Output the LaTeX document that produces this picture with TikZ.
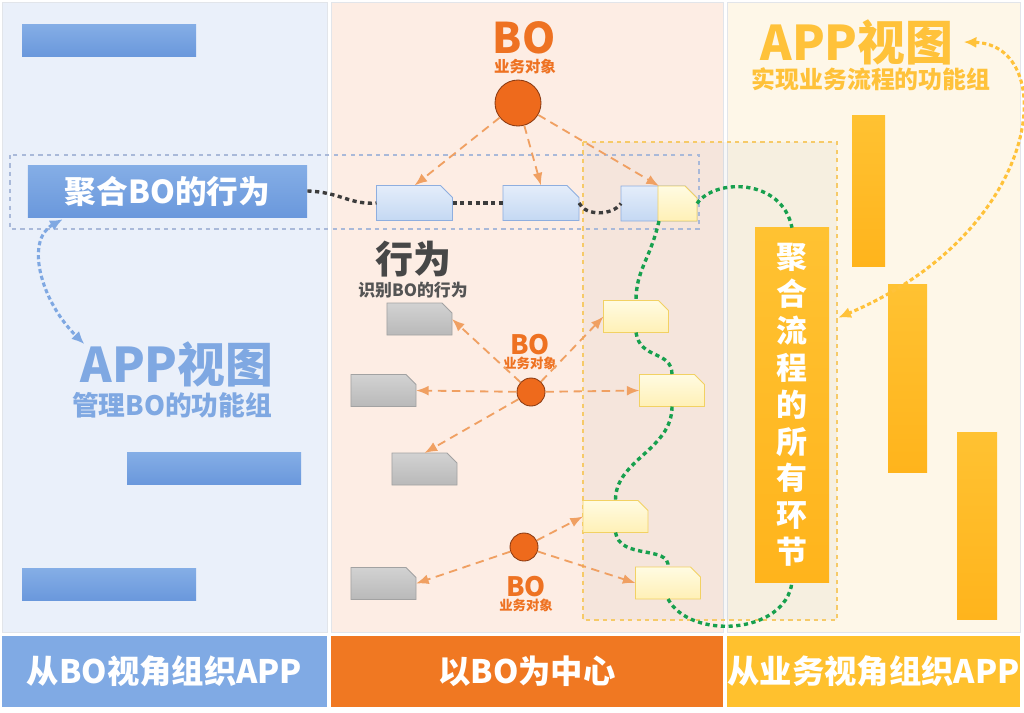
\documentclass[tikz,border=0pt]{standalone}
\usepackage{fontspec}
\setmainfont{Noto Sans CJK SC}
\usetikzlibrary{arrows.meta,positioning,calc}
\definecolor{bgblue}{HTML}{EAF0FA}
\definecolor{bgpeach}{HTML}{FDEDE4}
\definecolor{bgcream}{HTML}{FEF7E8}
\definecolor{banblue}{HTML}{80AAE4}
\definecolor{banorange}{HTML}{F07822}
\definecolor{banyellow}{HTML}{FFC12E}
\definecolor{barblueA}{HTML}{85AEE6}
\definecolor{barblueB}{HTML}{6A98DC}
\definecolor{baryellowA}{HTML}{FFC232}
\definecolor{baryellowB}{HTML}{FFB41C}
\definecolor{txtblue}{HTML}{7FA8E2}
\definecolor{txtyellow}{HTML}{FFC23A}
\definecolor{botext}{HTML}{EE7222}
\definecolor{bocircle}{HTML}{EE6A1C}
\definecolor{bostroke}{HTML}{8A3A12}
\definecolor{arrorange}{HTML}{F0A062}
\definecolor{dotgreen}{HTML}{17A04E}
\definecolor{dotblack}{HTML}{3C3C3C}
\definecolor{blueframe}{HTML}{A9B9D9}
\definecolor{yellowframe}{HTML}{F6CA68}
\definecolor{colline}{HTML}{E2E5EA}
\definecolor{tagblueA}{HTML}{E4EDFA}
\definecolor{tagblueB}{HTML}{C4D8F3}
\definecolor{tagblueD}{HTML}{8EAEDF}
\definecolor{tagyelA}{HTML}{FFFBE2}
\definecolor{tagyelB}{HTML}{FFF0B6}
\definecolor{tagyelD}{HTML}{F2D163}
\definecolor{taggrayA}{HTML}{D2D2D2}
\definecolor{taggrayB}{HTML}{B9B9B9}
\definecolor{taggrayD}{HTML}{A2A2A2}
\begin{document}
\begin{tikzpicture}[x=0.025cm,y=-0.025cm,font=\bfseries,
  banner/.style={minimum height=1.775cm,inner sep=0,text=white,font=\bfseries\fontsize{23}{26}\selectfont},
  tag/.style={inner sep=0,outer sep=0},
  bigtag/.style={tag,minimum width=1.9cm,minimum height=.875cm},
  smalltag/.style={tag,minimum width=1.625cm,minimum height=.8cm},
  bluefill/.style={draw=tagblueD,line width=.6pt,top color=tagblueA,bottom color=tagblueB},
  yelfill/.style={draw=tagyelD,line width=.6pt,top color=tagyelA,bottom color=tagyelB},
  grayfill/.style={draw=taggrayD,line width=.6pt,top color=taggrayA,bottom color=taggrayB},
  bonode/.style={circle,draw=bostroke,fill=bocircle,line width=.6pt,minimum size=#1,inner sep=0},
  botitle/.style={text=botext,inner sep=0,font=\bfseries\fontsize{#1}{#1}\selectfont},
  boarrow/.style={draw=arrorange,dash pattern=on 6pt off 4pt,line width=1.3pt,-{Latex[length=9pt,width=7pt]}},
  greendot/.style={draw=dotgreen,line width=2.4pt,dash pattern=on 3pt off 2.5pt},
  blackdot/.style={draw=dotblack,line width=2.4pt,dash pattern=on 3pt off 2.5pt},
  bluedot/.style={draw=txtblue,line width=2.2pt,dash pattern=on 3pt off 2pt,{Latex[length=9pt,width=8pt]}-{Latex[length=9pt,width=8pt]}},
  yeldot/.style={draw=txtyellow,line width=2.2pt,dash pattern=on 3pt off 2pt,{Latex[length=9pt,width=8pt]}-{Latex[length=9pt,width=8pt]}}]
\useasboundingbox (0,0) rectangle (1024,712);
\fill[white] (0,0) rectangle (1024,712);
% columns
\filldraw[bgblue,draw=colline] (2,2) rectangle (327,632);
\filldraw[bgpeach,draw=colline] (331,2) rectangle (723,632);
\filldraw[bgcream,draw=colline] (727,2) rectangle (1020,632);
\node[banner,fill=banblue,minimum width=8.125cm] (banL) at (164.5,671.5) {从BO视角组织APP};
\node[banner,fill=banorange,minimum width=9.8cm] (banM) at (527,671.5) {以BO为中心};
\node[banner,fill=banyellow,minimum width=7.325cm] (banR) at (873.5,671.5) {从业务视角组织APP};
% frames
\draw[yellowframe,fill=black,fill opacity=.03,dashed,line width=.8pt] (583,142) rectangle (837,620);
\draw[blueframe,dashed,line width=.8pt] (10,155) rectangle (699,229);
% bars
\shade[top color=barblueA,bottom color=barblueB] (22,24) rectangle (196,56);
\shade[top color=barblueA,bottom color=barblueB] (127,452) rectangle (301,484);
\shade[top color=barblueA,bottom color=barblueB] (22,568) rectangle (196,600);
\shade[top color=baryellowA,bottom color=baryellowB] (852,115) rectangle (885,266);
\shade[top color=baryellowA,bottom color=baryellowB] (888,284) rectangle (927,472);
\shade[top color=baryellowA,bottom color=baryellowB] (957,432) rectangle (997,619);
% left column
\node[top color=barblueA,bottom color=barblueB,minimum width=6.975cm,minimum height=1.3cm,inner sep=0,text=white,font=\bfseries\fontsize{22.5}{24}\selectfont] (aggBO) at (167.5,191) {聚合BO的行为};
\node[text=txtblue,inner sep=0,font=\bfseries\fontsize{34}{36}\selectfont] (appL) at (177,364) {APP视图};
\node[text=txtblue,inner sep=0,font=\bfseries\fontsize{19}{21}\selectfont] (appLsub) at (172,405) {管理BO的功能组};
\draw[bluedot] ($(aggBO.south west)+(35,2)$) .. controls (25,240) and (40,300) .. ($(appL.north west)+(4,3)$);
% middle column
\node[bonode=1.15cm] (bo1) at (518,103) {};
\node[botitle=30] (bo1t) at (524,38) {BO};
\node[botitle=11] (bo1s) at (525,67) {业务对象};
\node[bigtag] (tagA) at (414.5,203) {};
\node[bigtag] (tagB) at (541,203) {};
\node[bigtag] (tagC) at (659,203.5) {};
\node[tag,minimum width=.975cm,minimum height=.875cm] (tagCy) at (677.5,203.5) {};
\node[smalltag] (g1) at (419.5,319) {};
\node[smalltag] (g2) at (383.5,390.5) {};
\node[smalltag] (g3) at (424.5,469) {};
\node[smalltag] (g4) at (383.5,583.5) {};
\node[smalltag] (y1) at (636,316.5) {};
\node[smalltag] (y2) at (672,390.5) {};
\node[smalltag] (y3) at (615.5,516.5) {};
\node[smalltag] (y4) at (668,583) {};
% folded tags
\foreach \n/\s/\c in {tagA/bluefill/.3cm,tagB/bluefill/.3cm,tagC/bluefill/.3cm,tagCy/yelfill/.3cm,
  g1/grayfill/.25cm,g2/grayfill/.25cm,g3/grayfill/.25cm,g4/grayfill/.25cm,
  y1/yelfill/.25cm,y2/yelfill/.25cm,y3/yelfill/.25cm,y4/yelfill/.25cm}{
  \draw[\s] (\n.north west) -- ([xshift=-\c]\n.north east) -- ([yshift=-\c]\n.north east) -- (\n.south east) -- (\n.south west) -- cycle;}
\foreach \t in {tagA,tagB,tagC}{\draw[boarrow] (bo1) -- (\t.north);}
\draw[blackdot] (aggBO.east) .. controls (340,192) and (350,205) .. (tagA.west);
\draw[blackdot] (tagA.east) -- (tagB.west);
\draw[blackdot] (tagB.east) .. controls (585,216) and (612,216) .. (tagC.west);
\node[text=black!72,inner sep=0,font=\bfseries\fontsize{27}{28}\selectfont] (act) at (413,259) {行为};
\node[text=black!67,inner sep=0,font=\bfseries\fontsize{12}{13}\selectfont] (actsub) at (413,290) {识别BO的行为};
\node[bonode=.7cm] (bo2) at (531,392) {};
\node[botitle=19] (bo2t) at (530,345) {BO};
\node[botitle=9.5] (bo2s) at (530,363) {业务对象};
\node[bonode=.7cm] (bo3) at (524,547) {};
\node[botitle=19] (bo3t) at (526,587) {BO};
\node[botitle=9.5] (bo3s) at (526,605) {业务对象};
\foreach \t in {g1.east,g2.east,g3.north,y1.west,y2.west}{\draw[boarrow] (bo2) -- (\t);}
\foreach \t in {y3.west,y4.west,g4.east}{\draw[boarrow] (bo3) -- (\t);}
% right column
\node[text=txtyellow,inner sep=0,font=\bfseries\fontsize{34}{36}\selectfont] (appR) at (857,42) {APP视图};
\node[text=txtyellow,inner sep=0,font=\bfseries\fontsize{17}{19}\selectfont] (appRsub) at (871,79) {实现业务流程的功能组};
\node[top color=baryellowA,bottom color=baryellowB,minimum width=1.85cm,minimum height=8.85cm,inner sep=0,align=center,text=white,font=\bfseries\fontsize{22}{26.2}\selectfont] (proc) at (792,405) {聚\\合\\流\\程\\的\\所\\有\\环\\节};
\draw[yeldot] ($(appR.east)+(10,0)$) .. controls (1060,45) and (1045,230) .. ($(proc.north east)+(9,90)$);
% process chain
\draw[greendot] (tagCy.east) .. controls (715,178) and (782,178) .. (proc.north);
\draw[greendot] ($(tagCy.south west)+(1,0)$) .. controls (650,260) and (636,270) .. (y1.north);
\draw[greendot] (y1.south) .. controls (640,360) and (672,350) .. (y2.north);
\draw[greendot] (y2.south) .. controls (672,450) and (615,460) .. (y3.north);
\draw[greendot] (y3.south) .. controls (620,560) and (670,545) .. (y4.north);
\draw[greendot] (y4.south) .. controls (690,640) and (785,635) .. (proc.south);
\end{tikzpicture}
\end{document}
